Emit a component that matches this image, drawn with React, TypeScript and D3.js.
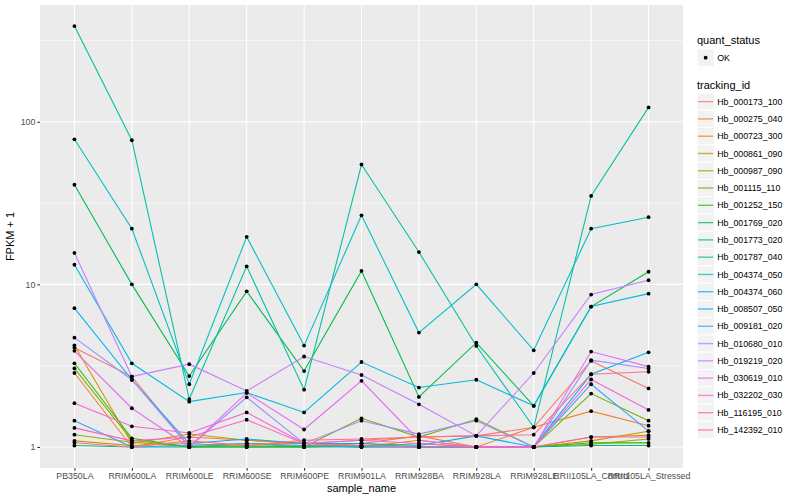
import React, { useEffect, useRef } from 'react';
import * as d3 from 'd3';

const samples = [
  'PB350LA', 'RRIM600LA', 'RRIM600LE', 'RRIM600SE', 'RRIM600PE', 'RRIM901LA',
  'RRIM928BA', 'RRIM928LA', 'RRIM928LE', 'RRII105LA_Control', 'RRII105LA_Stressed',
];

const trackingIds = [
  'Hb_000173_100', 'Hb_000275_040', 'Hb_000723_300', 'Hb_000861_090', 'Hb_000987_090',
  'Hb_001115_110', 'Hb_001252_150', 'Hb_001769_020', 'Hb_001773_020', 'Hb_001787_040',
  'Hb_004374_050', 'Hb_004374_060', 'Hb_008507_050', 'Hb_009181_020', 'Hb_010680_010',
  'Hb_019219_020', 'Hb_030619_010', 'Hb_032202_030', 'Hb_116195_010', 'Hb_142392_010',
];

// ggplot hue palette, 20 levels
const hueColors = [
  '#F8766D', '#EA8331', '#D89000', '#C09B00', '#A3A500', '#7CAE00', '#39B600', '#00BB4E',
  '#00BF7D', '#00C1A3', '#00BFC4', '#00BAE0', '#00B0F6', '#35A2FF', '#9590FF', '#C77CFF',
  '#E76BF3', '#FA62DB', '#FF62BC', '#FF6C91',
];

// FPKM + 1 per sample, same order as samples
const hb_000173_100 = [4.08, 2.71, 1.0, 1.05, 1.05, 1.1, 1.15, 1.17, 1.32, 3.38, 2.29];
const hb_000275_040 = [2.85, 1.0, 1.15, 1.1, 1.05, 1.05, 1.17, 1.0, 1.32, 1.66, 1.35];
const hb_000723_300 = [4.22, 1.05, 1.2, 1.1, 1.05, 1.0, 1.1, 1.0, 1.0, 1.09, 1.25];
const hb_000861_090 = [1.09, 1.02, 1.05, 1.0, 1.02, 1.0, 1.05, 1.0, 1.0, 1.15, 1.18];
const hb_000987_090 = [1.19, 1.07, 1.0, 1.02, 1.0, 1.05, 1.0, 1.0, 1.0, 1.04, 1.12];
const hb_001115_110 = [3.04, 1.1, 1.0, 1.05, 1.0, 1.5, 1.15, 1.48, 1.0, 2.13, 1.45];
const hb_001252_150 = [3.27, 1.13, 1.0, 1.0, 1.0, 1.02, 1.0, 1.0, 1.0, 1.06, 1.06];
const hb_001769_020 = [41, 10, 2.73, 9.06, 2.93, 12.1, 2.03, 4.38, 1.79, 7.3, 11.96];
const hb_001773_020 = [1.02, 1.0, 1.0, 1.0, 1.0, 1.0, 1.0, 1.0, 1.0, 1.02, 1.02];
const hb_001787_040 = [388, 77, 1.97, 12.9, 2.25, 54.6, 15.8, 4.18, 1.32, 35, 122.6];
const hb_004374_050 = [78, 22, 2.43, 19.6, 4.2, 26.6, 5.05, 10, 3.93, 22, 25.9];
const hb_004374_060 = [13.2, 3.27, 1.9, 2.16, 1.63, 3.33, 2.32, 2.59, 1.79, 7.3, 8.77];
const hb_008507_050 = [7.14, 2.59, 1.05, 1.12, 1.05, 1.05, 1.02, 1.17, 1.0, 2.8, 3.82];
const hb_009181_020 = [1.45, 1.0, 1.02, 1.05, 1.02, 1.0, 1.0, 1.0, 1.0, 2.43, 1.25];
const hb_010680_010 = [4.7, 2.59, 1.0, 2.02, 1.05, 1.45, 1.2, 1.45, 1.0, 3.42, 3.04];
const hb_019219_020 = [15.6, 2.71, 3.23, 2.21, 3.6, 2.77, 1.83, 1.17, 2.85, 8.66, 10.6];
const hb_030619_010 = [3.9, 1.73, 1.0, 2.15, 1.28, 2.55, 1.1, 1.0, 1.0, 3.86, 3.12];
const hb_032202_030 = [1.86, 1.34, 1.22, 1.63, 1.05, 1.1, 1.05, 1.0, 1.0, 2.6, 1.69];
const hb_116195_010 = [1.31, 1.09, 1.15, 1.47, 1.05, 1.02, 1.0, 1.0, 1.0, 1.15, 1.15];
const hb_142392_010 = [1.06, 1.0, 1.09, 1.02, 1.1, 1.12, 1.15, 1.17, 1.19, 2.8, 2.9];

const seriesValues = [
  hb_000173_100, hb_000275_040, hb_000723_300, hb_000861_090, hb_000987_090,
  hb_001115_110, hb_001252_150, hb_001769_020, hb_001773_020, hb_001787_040,
  hb_004374_050, hb_004374_060, hb_008507_050, hb_009181_020, hb_010680_010,
  hb_019219_020, hb_030619_010, hb_032202_030, hb_116195_010, hb_142392_010,
];

const yTicks = [1, 10, 100];

const FONT = '"Liberation Sans", Arial, sans-serif';

const App: React.FC = () => {
  const ref = useRef<SVGSVGElement | null>(null);

  useEffect(() => {
    const W = 800;
    const H = 500;
    const panel = { left: 40, right: 683, top: 5, bottom: 468 };

    const svg = d3.select(ref.current);
    svg.selectAll('*').remove();
    svg.attr('width', W).attr('height', H);

    const series = trackingIds.map((id, i) => ({
      id,
      color: hueColors[i],
      points: samples.map((s, j) => ({ sample: s, value: seriesValues[i][j] })),
    }));

    // Scales
    const x = d3.scalePoint<string>()
      .domain(samples)
      .range([panel.left, panel.right])
      .padding(0.6);

    const all = seriesValues.flat();
    const lo = Math.log10(d3.min(all)!);
    const hi = Math.log10(d3.max(all)!);
    const pad = (hi - lo) * 0.05;
    const y = d3.scaleLog()
      .domain([10 ** (lo - pad), 10 ** (hi + pad)])
      .range([panel.bottom, panel.top]);

    // Panel background
    svg.append('rect')
      .attr('x', panel.left)
      .attr('y', panel.top)
      .attr('width', panel.right - panel.left)
      .attr('height', panel.bottom - panel.top)
      .attr('fill', '#EBEBEB');

    // Grid
    const [d0, d1] = y.domain();
    const minor = yTicks.concat([1000]).map(v => v / Math.sqrt(10)).filter(v => v >= d0 && v <= d1);
    svg.append('g').selectAll('line.minor')
      .data(minor)
      .enter()
      .append('line')
      .attr('x1', panel.left)
      .attr('x2', panel.right)
      .attr('y1', d => y(d))
      .attr('y2', d => y(d))
      .attr('stroke', '#fff')
      .attr('stroke-width', 0.53);

    svg.append('g').selectAll('line.major')
      .data(yTicks)
      .enter()
      .append('line')
      .attr('x1', panel.left)
      .attr('x2', panel.right)
      .attr('y1', d => y(d))
      .attr('y2', d => y(d))
      .attr('stroke', '#fff')
      .attr('stroke-width', 1.07);

    svg.append('g').selectAll('line.vx')
      .data(samples)
      .enter()
      .append('line')
      .attr('x1', d => x(d)!)
      .attr('x2', d => x(d)!)
      .attr('y1', panel.top)
      .attr('y2', panel.bottom)
      .attr('stroke', '#fff')
      .attr('stroke-width', 1.07);

    // Lines
    const line = d3.line<{ sample: string; value: number }>()
      .x(d => x(d.sample)!)
      .y(d => y(d.value));

    svg.append('g').selectAll('path')
      .data(series)
      .enter()
      .append('path')
      .attr('d', d => line(d.points))
      .attr('fill', 'none')
      .attr('stroke', d => d.color)
      .attr('stroke-width', 1.07);

    // Points
    svg.append('g').selectAll('circle')
      .data(series.flatMap(s => s.points))
      .enter()
      .append('circle')
      .attr('cx', d => x(d.sample)!)
      .attr('cy', d => y(d.value))
      .attr('r', 1.9)
      .attr('fill', '#000');

    // Y axis
    const yAxis = svg.append('g')
      .attr('transform', `translate(${panel.left},0)`)
      .call(d3.axisLeft(y).tickValues(yTicks).tickFormat(d3.format('d')).tickSize(2.7).tickPadding(2));
    yAxis.select('.domain').remove();
    yAxis.selectAll('line').attr('stroke', '#333333').attr('stroke-width', 1.07);
    yAxis.selectAll('text')
      .attr('fill', '#4D4D4D')
      .style('font-family', FONT)
      .style('font-size', '8.8px');

    // X axis
    const xAxis = svg.append('g')
      .attr('transform', `translate(0,${panel.bottom})`)
      .call(d3.axisBottom(x).tickSize(2.7).tickPadding(2));
    xAxis.select('.domain').remove();
    xAxis.selectAll('line').attr('stroke', '#333333').attr('stroke-width', 1.07);
    xAxis.selectAll('text')
      .attr('fill', '#4D4D4D')
      .style('font-family', FONT)
      .style('font-size', '8.8px');

    // Axis titles
    svg.append('text')
      .attr('x', (panel.left + panel.right) / 2)
      .attr('y', 492)
      .attr('text-anchor', 'middle')
      .style('font-family', FONT)
      .style('font-size', '11px')
      .text('sample_name');

    svg.append('text')
      .attr('transform', `translate(14,${(panel.top + panel.bottom) / 2}) rotate(-90)`)
      .attr('text-anchor', 'middle')
      .style('font-family', FONT)
      .style('font-size', '11px')
      .text('FPKM + 1');

    // Legend
    const lx = 697;
    const key = 17.28;
    const legend = svg.append('g');

    legend.append('text')
      .attr('x', lx)
      .attr('y', 44)
      .style('font-family', FONT)
      .style('font-size', '11px')
      .text('quant_status');
    legend.append('rect')
      .attr('x', lx)
      .attr('y', 49)
      .attr('width', key)
      .attr('height', key)
      .attr('fill', '#F2F2F2')
      .attr('stroke', '#fff');
    legend.append('circle')
      .attr('cx', lx + key / 2)
      .attr('cy', 49 + key / 2)
      .attr('r', 1.9)
      .attr('fill', '#000');
    legend.append('text')
      .attr('x', lx + key + 3)
      .attr('y', 49 + key / 2 + 3.1)
      .style('font-family', FONT)
      .style('font-size', '8.8px')
      .text('OK');

    legend.append('text')
      .attr('x', lx)
      .attr('y', 89)
      .style('font-family', FONT)
      .style('font-size', '11px')
      .text('tracking_id');

    const items = legend.selectAll('g.item')
      .data(series)
      .enter()
      .append('g')
      .attr('transform', (d, i) => `translate(${lx},${93 + i * key})`);
    items.append('rect')
      .attr('width', key)
      .attr('height', key)
      .attr('fill', '#F2F2F2')
      .attr('stroke', '#fff');
    items.append('line')
      .attr('x1', 1)
      .attr('x2', key - 1)
      .attr('y1', key / 2)
      .attr('y2', key / 2)
      .attr('stroke', d => d.color)
      .attr('stroke-opacity', 0.75)
      .attr('stroke-width', 1.4);
    items.append('text')
      .attr('x', key + 3)
      .attr('y', key / 2 + 3.1)
      .style('font-family', FONT)
      .style('font-size', '8.8px')
      .text(d => d.id);
  }, []);

  return (
    <svg
      ref={ref}
      style={{ position: 'fixed', left: 0, top: 0, background: '#fff', display: 'block' }}
    />
  );
};

export default App;
